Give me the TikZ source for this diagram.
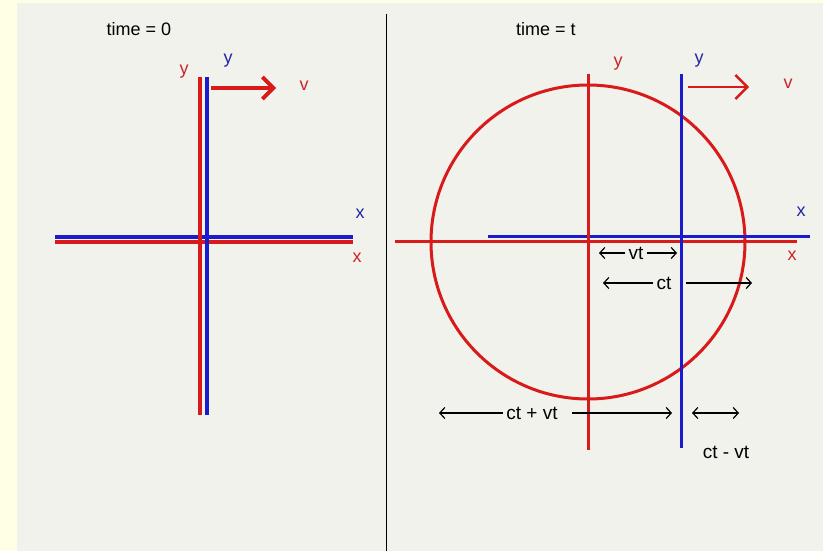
\documentclass[tikz,border=0pt]{standalone}
\usepackage{fontspec}
\setmainfont{Liberation Sans}
\usetikzlibrary{arrows.meta,positioning}

\definecolor{paper}{HTML}{FFFFE6}
\definecolor{panel}{HTML}{F2F2EC}
\definecolor{axred}{HTML}{D81A1A}
\definecolor{axblue}{HTML}{1A1ACF}
\definecolor{lblred}{HTML}{C8252A}
\definecolor{lblblue}{HTML}{2424A8}

\tikzset{
  lbl/.style={font=\fontsize{18}{20}\selectfont, inner sep=1.5pt},
  dimlbl/.style={font=\fontsize{19}{21}\selectfont, inner sep=3pt},
  redlbl/.style={lbl, text=lblred},
  bluelbl/.style={lbl, text=lblblue},
  redax/.style={axred, line width=3.4pt},
  blueax/.style={axblue, line width=3.4pt},
  thinred/.style={axred, line width=3pt},
  thinblue/.style={axblue, line width=3pt},
  barb/.tip={Straight Barb[length=5pt,width=11pt]},
  dimto/.style={black, line width=1.2pt, -barb},
  dimboth/.style={black, line width=1.2pt, barb-barb},
}

\begin{document}
\begin{tikzpicture}[x=1pt, y=-1pt]
    % Background and panel
    \fill[paper] (0,0) rectangle (823,551);
    \fill[panel] (17,3) rectangle (823,551);
    \useasboundingbox (0,0) rectangle (823,551);

    % Divider
    \draw[black, line width=0.8pt] (386,14) -- (386,551);

    % Time = 0
    \node[lbl] (t0) at (139,29) {time = 0};
    \draw[redax] (55,242) -- (353,242);
    \draw[blueax] (55,237) -- (353,237);
    \draw[redax] (200,77) -- (200,415);
    \draw[blueax] (207,77) -- (207,415);
    \node[redlbl] (y0r) at (184,72) {y};
    \node[bluelbl] (y0b) at (228,61) {y};
    \node[bluelbl] (x0b) at (360,214) {x};
    \node[redlbl] (x0r) at (357,258) {x};
    \coordinate (v0s) at (211,88);
    \coordinate (v0e) at (276,88);
    \draw[axred, line width=3.8pt, -{Straight Barb[length=11pt,width=22pt,line width=3.8pt]}] (v0s) -- (v0e);
    \node[redlbl] (v0) at (304,86) {v};

    % Time = t
    \node[lbl] (tt) at (546,29) {time = t};
    \draw[thinred] (588,242) circle (157);
    \draw[thinred] (395,241) -- (797,241);
    \draw[thinblue] (488,236) -- (810,236);
    \draw[thinred] (588,74) -- (588,450);
    \draw[thinblue] (681,74) -- (681,448);
    \node[redlbl] (ytr) at (618,64) {y};
    \node[bluelbl] (ytb) at (699,61) {y};
    \node[bluelbl] (xtb) at (801,212) {x};
    \node[redlbl] (xtr) at (792,256) {x};
    \coordinate (vts) at (688,87);
    \coordinate (vte) at (749,87);
    \draw[axred, line width=2.4pt, -{Straight Barb[length=12pt,width=24pt,line width=2.4pt]}] (vts) -- (vte);
    \node[redlbl] (vt0) at (788,84) {v};

    % Distances
    \node[dimlbl] (vt) at (636,253) {vt};
    \coordinate (vtL) at (599,253);
    \coordinate (vtR) at (677,253);
    \draw[dimto] (vt) -- (vtL);
    \draw[dimto] (vt) -- (vtR);

    \node[dimlbl] (ct) at (664,283) {ct};
    \coordinate (ctL) at (603,283);
    \coordinate (ctS) at (686,283);
    \coordinate (ctR) at (752,283);
    \draw[dimto] (ct) -- (ctL);
    \draw[dimto] (ctS) -- (ctR);

    \node[dimlbl] (cpv) at (532,413) {ct + vt};
    \coordinate (cpvL) at (439,413);
    \coordinate (cpvS) at (572,413);
    \coordinate (cpvR) at (672,413);
    \draw[dimto] (cpv) -- (cpvL);
    \draw[dimto] (cpvS) -- (cpvR);

    \coordinate (cmvL) at (692,413);
    \coordinate (cmvR) at (739,413);
    \draw[dimboth] (cmvL) -- (cmvR);
    \node[dimlbl] (cmv) at (726,452) {ct - vt};
\end{tikzpicture}
\end{document}
